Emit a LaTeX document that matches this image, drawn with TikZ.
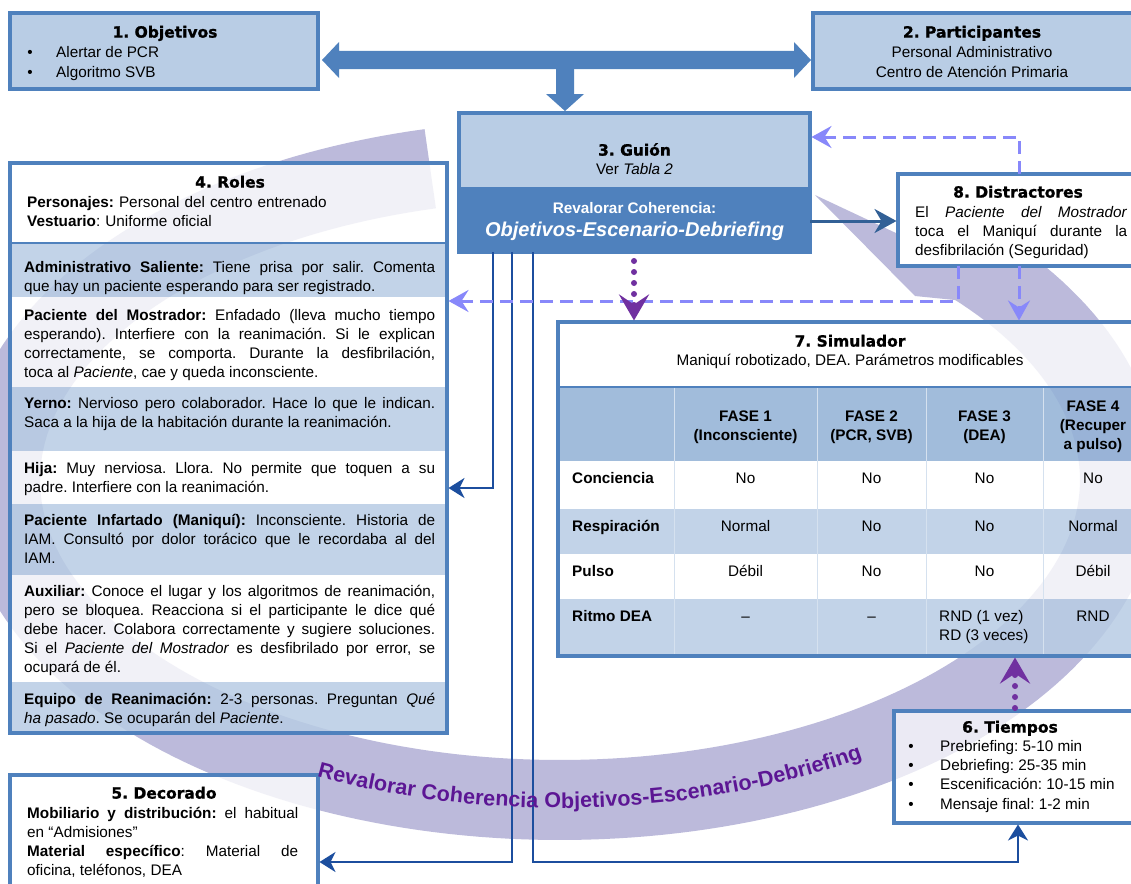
\documentclass[tikz,border=0pt]{standalone}
\usepackage{fontspec}
\setmainfont{Liberation Sans}
\newfontfamily\titlefont{DejaVu Sans Bold}[FakeBold=1.2]
\usetikzlibrary{arrows.meta,decorations.text,calc}
\definecolor{bblue}{RGB}{79,129,189}
\definecolor{lblue}{RGB}{185,205,229}
\definecolor{rowblue}{RGB}{184,204,228}
\definecolor{hdrblue}{RGB}{149,179,215}
\definecolor{bandc}{RGB}{188,186,219}
\definecolor{dkblue}{RGB}{28,78,158}
\definecolor{stblue}{RGB}{50,96,150}
\definecolor{dashc}{RGB}{136,136,250}
\definecolor{purp}{RGB}{112,48,160}
\definecolor{tpurp}{RGB}{92,22,148}
\tikzset{
 boxnode/.style={draw=bblue, line width=3.5pt, rectangle, outer sep=0pt, inner sep=0pt, anchor=north west},
 ttl/.style={font=\titlefont\fontsize{15.5}{18}\selectfont, inner sep=0pt, anchor=base},
 ln/.style={inner sep=0pt, anchor=base},
 lnw/.style={inner sep=0pt, anchor=base west},
 bln/.style={inner sep=0pt, anchor=base, font=\bfseries},
 blnw/.style={inner sep=0pt, anchor=base west, font=\bfseries},
 parbox/.style={inner sep=0pt, anchor=north west, align=justify},
 conn/.style={dkblue, line width=2.7pt, shorten >=1.5pt, -{Stealth[length=16pt,width=20pt,inset=5pt]}},
 stconn/.style={stblue, line width=3pt, shorten >=1.5pt, -{Stealth[length=22pt,width=24pt,inset=7pt]}},
 dashconn/.style={dashc, line width=3pt, dash pattern=on 13pt off 7pt, shorten >=1.5pt, -{Stealth[length=20pt,width=22pt,inset=7pt]}},
 dotconn/.style={purp, line width=6pt, line cap=round, dash pattern=on 0pt off 11pt, shorten >=1.5pt, -{Stealth[length=26pt,width=30pt,inset=10pt]}},
}
\begin{document}
\fontsize{15.3}{19}\selectfont\hyphenpenalty=10000 \exhyphenpenalty=10000 \frenchspacing
\begin{tikzpicture}[x=1pt,y=-1pt]
\useasboundingbox (0,0) rectangle (1131,883);
\clip (0,0) rectangle (1131,883);
\fill[white] (0,0) rectangle (1131,883);

% ---- background circular arrow
\draw[bandc, line width=80pt] plot[domain=-44:256.6, samples=200, variable=\t] ({560+560*cos(\t)},{480+320*sin(\t)});
\fill[bandc] (815,195) -- (898,234) -- (1010,200) -- (1000,230) -- (955,300) -- (915,296) -- cycle;

% ---- 4. Roles
\fill[white, fill opacity=.8] (10,163) rectangle (447,243);
\fill[rowblue, fill opacity=.85] (10,243) rectangle (447,297);
\fill[white, fill opacity=.8] (10,297) rectangle (447,387);
\fill[rowblue, fill opacity=.85] (10,387) rectangle (447,451);
\fill[white, fill opacity=.8] (10,451) rectangle (447,504);
\fill[rowblue, fill opacity=.85] (10,504) rectangle (447,575);
\fill[white, fill opacity=.8] (10,575) rectangle (447,682);
\fill[rowblue, fill opacity=.85] (10,682) rectangle (447,733);
\draw[bblue, line width=2pt] (10,243) -- (447,243);
\node[boxnode, minimum width=437pt, minimum height=570pt] (b4) at (10,163) {};
\node[ttl] (t4) at (230,187.6) {4. Roles};
\node[parbox, align=left, text width=400pt] (t4a) at (27,194.2) {\strut\textbf{Personajes:} Personal del centro entrenado\\\textbf{Vestuario}: Uniforme oficial};
\node[parbox, text width=411pt] (r1) at (24,259.2) {\strut\textbf{Administrativo Saliente:} Tiene prisa por salir. Comenta\linebreak que hay un paciente esperando para ser registrado.};
\node[parbox, text width=411pt] (r2) at (24,307.2) {\strut\textbf{Paciente del Mostrador:} Enfadado (lleva mucho tiempo\linebreak esperando). Interfiere con la reanimación. Si le explican\linebreak correctamente, se comporta. Durante la desfibrilación,\linebreak toca al \textit{Paciente}, cae y queda inconsciente.};
\node[parbox, text width=411pt] (r3) at (24,395.2) {\strut\textbf{Yerno:} Nervioso pero colaborador. Hace lo que le indican.\linebreak Saca a la hija de la habitación durante la reanimación.};
\node[parbox, text width=411pt] (r4) at (24,460.2) {\strut\textbf{Hija:} Muy nerviosa. Llora. No permite que toquen a su\linebreak padre. Interfiere con la reanimación.};
\node[parbox, text width=411pt] (r5) at (24,512.2) {\strut\textbf{Paciente Infartado (Maniquí):} Inconsciente. Historia de\linebreak IAM. Consultó por dolor torácico que le recordaba al del\linebreak IAM.};
\node[parbox, text width=411pt] (r6) at (24,583.2) {\strut\textbf{Auxiliar:} Conoce el lugar y los algoritmos de reanimación,\linebreak pero se bloquea. Reacciona si el participante le dice qué\linebreak debe hacer. Colabora correctamente y sugiere soluciones.\linebreak Si el \textit{Paciente del Mostrador} es desfibrilado por error, se\linebreak ocupará de él.};
\node[parbox, text width=411pt] (r7) at (24,691.2) {\strut\textbf{Equipo de Reanimación:} 2-3 personas. Preguntan \textit{Qué}\linebreak \textit{ha pasado}. Se ocuparán del \textit{Paciente}.};

% ---- 5. Decorado
\fill[white, fill opacity=.8] (10,775) rectangle (318,895);
\node[boxnode, minimum width=308pt, minimum height=120pt] (b5) at (10,775) {};
\node[ttl] (t5) at (164,798.6) {5. Decorado};
\node[parbox, text width=271pt] (t5a) at (27,805.2) {\strut\textbf{Mobiliario y distribución:} el habitual\linebreak en “Admisiones”\\\textbf{Material específico}: Material de\linebreak oficina, teléfonos, DEA};

% ---- 6. Tiempos
\fill[white, fill opacity=.7] (894,711) rectangle (1135,823);
\node[boxnode, minimum width=241pt, minimum height=112pt] (b6) at (894,711) {};
\node[ttl] (t6) at (1010,732.6) {6. Tiempos};
\node[ln] (t6b1) at (911,751.5) {•}; \node[lnw] (t6a) at (940,751.5) {Prebriefing: 5-10 min};
\node[ln] (t6b2) at (911,770.5) {•}; \node[lnw] (t6b) at (940,770.5) {Debriefing: 25-35 min};
\node[ln] (t6b3) at (911,789.5) {•}; \node[lnw] (t6c) at (940,789.5) {Escenificación: 10-15 min};
\node[ln] (t6b4) at (911,809.5) {•}; \node[lnw] (t6d) at (940,809.5) {Mensaje final: 1-2 min};

% ---- 7. Simulador
\fill[white, fill opacity=.8] (558,322) rectangle (1145,387);
\fill[hdrblue, fill opacity=.88] (558,387) rectangle (1145,461);
\fill[white, fill opacity=.8] (558,461) rectangle (1145,509);
\fill[rowblue, fill opacity=.85] (558,509) rectangle (1145,554);
\fill[white, fill opacity=.8] (558,554) rectangle (1145,599);
\fill[rowblue, fill opacity=.85] (558,599) rectangle (1145,656);
\foreach \cx in {674,817,926,1043} \draw[white!60!hdrblue, line width=1pt] (\cx,387) -- (\cx,656);
\draw[bblue, line width=2.5pt] (558,387) -- (1145,387);
\node[boxnode, minimum width=587pt, minimum height=334pt] (b7) at (558,322) {};
\node[ttl] (t7) at (850,346.6) {7. Simulador};
\node[ln] (t7a) at (850,365.5) {Maniquí robotizado, DEA. Parámetros modificables};
\node[bln] (h1a) at (745.5,421.5) {FASE 1}; \node[bln] (h1b) at (745.5,440.5) {(Inconsciente)};
\node[bln] (h2a) at (871.5,421.5) {FASE 2}; \node[bln] (h2b) at (871.5,440.5) {(PCR, SVB)};
\node[bln] (h3a) at (984.5,421.5) {FASE 3}; \node[bln] (h3b) at (984.5,440.5) {(DEA)};
\node[bln] (h4a) at (1093,411.5) {FASE 4}; \node[bln] (h4b) at (1093,430.5) {(Recuper}; \node[bln] (h4c) at (1093,449.5) {a pulso)};
\node[blnw] (l1) at (572,483.5) {Conciencia};
\node[blnw] (l2) at (572,531.5) {Respiración};
\node[blnw] (l3) at (572,576.5) {Pulso};
\node[blnw] (l4) at (572,621.5) {Ritmo DEA};
\node[ln] (c11) at (745.5,483.5) {No}; \node[ln] (c12) at (871.5,483.5) {No}; \node[ln] (c13) at (984.5,483.5) {No}; \node[ln] (c14) at (1093,483.5) {No};
\node[ln] (c21) at (745.5,531.5) {Normal}; \node[ln] (c22) at (871.5,531.5) {No}; \node[ln] (c23) at (984.5,531.5) {No}; \node[ln] (c24) at (1093,531.5) {Normal};
\node[ln] (c31) at (745.5,576.5) {Débil}; \node[ln] (c32) at (871.5,576.5) {No}; \node[ln] (c33) at (984.5,576.5) {No}; \node[ln] (c34) at (1093,576.5) {Débil};
\node[ln] (c41) at (745.5,621.5) {–}; \node[ln] (c42) at (871.5,621.5) {–};
\node[lnw] (c43a) at (939,621.5) {RND (1 vez)}; \node[lnw] (c43b) at (939,640.5) {RD (3 veces)};
\node[ln] (c44) at (1093,621.5) {RND};

% ---- 1. Objetivos
\node[boxnode, fill=lblue, minimum width=308pt, minimum height=76pt] (b1) at (10,13) {};
\node[ttl] (t1) at (165,37.6) {1. Objetivos};
\node[ln] (t1b1) at (30,57.5) {•}; \node[lnw] (t1a) at (56,57.5) {Alertar de PCR};
\node[ln] (t1b2) at (30,77.5) {•}; \node[lnw] (t1b) at (56,77.5) {Algoritmo SVB};

% ---- 2. Participantes
\node[boxnode, fill=lblue, minimum width=322pt, minimum height=76pt] (b2) at (813,13) {};
\node[ttl] (t2) at (972,37.6) {2. Participantes};
\node[ln] (t2a) at (972,57.5) {Personal Administrativo};
\node[ln] (t2b) at (972,77.5) {Centro de Atención Primaria};

% ---- 3. Guion
\node[boxnode, fill=lblue, minimum width=351pt, minimum height=139pt] (b3) at (459,113) {};
\fill[bblue] (459,187) rectangle (810,252);
\node[ttl] (t3) at (634.5,155.6) {3. Guión};
\node[ln] (t3a) at (634.5,174.5) {Ver \textit{Tabla 2}};
\node[bln, text=white] (t3b) at (634.5,213.5) {Revalorar Coherencia:};
\node[ln, text=white, font=\fontsize{20}{22}\selectfont\bfseries\itshape] (t3c) at (634.5,236) {Objetivos-Escenario-Debriefing};

% ---- 8. Distractores
\node[boxnode, fill=white, minimum width=242pt, minimum height=92pt] (b8) at (898,174) {};
\node[ttl] (t8) at (1018,197.6) {8. Distractores};
\node[parbox, text width=212pt] (t8a) at (915,204.2) {\strut El \textit{Paciente del Mostrador}\linebreak toca el Maniquí durante la\linebreak desfibrilación (Seguridad)};

% ---- big blue arrows
\coordinate (dl) at ($(b1.east |- 0,60)+(4,0)$);
\coordinate (dr) at ($(b2.west |- 0,60)+(-2,0)$);
\coordinate (dt) at ($(b3.north -| 565,0)+(0,-2)$);
\fill[bblue] (dl) -- ++(17,-18) -- ++(0,9) -- ($(dr)+(-17,-9)$) -- ++(0,-9) -- (dr) -- ++(-17,18) -- ++(0,-9) -- ($(dl)+(17,9)$) -- ++(0,9) -- cycle;
\fill[bblue] ($(dt)+(-9,-42)$) -- ($(dt)+(-9,-17)$) -- ($(dt)+(-19,-17)$) -- (dt) -- ($(dt)+(19,-17)$) -- ($(dt)+(9,-17)$) -- ($(dt)+(9,-42)$) -- cycle;

% ---- connectors
\draw[stconn] (b3.east |- 0,221) -- (b8.west |- 0,221);
\draw[conn] (b3.south -| 493,0) |- (b4.east |- 0,488);
\draw[conn] (b3.south -| 512,0) |- (b5.east |- 0,862);
\draw[conn] (b3.south -| 533,0) |- ($(b6.south -| 1018,0)+(0,39)$) -- (b6.south -| 1018,0);
\draw[dashconn] (b8.north -| 1019,0) |- (b3.east |- 0,137);
\draw[dashconn] (b8.south -| 958,0) |- (b4.east |- 0,301);
\draw[dashconn] (b8.south -| 1019,0) -- (b7.north -| 1019,0);
\draw[dotconn] ($(b3.south -| 634,0)+(0,9)$) -- (b7.north -| 634,0);
\draw[dotconn] ($(b6.north -| 1015,0)+(0,-3)$) -- (b7.south -| 1015,0);

% ---- curved label
\path[decorate, decoration={text along path, text align=center, raise=-8pt, text color=tpurp,
  text={|\fontsize{21.5}{22}\selectfont\bfseries|Revalorar Coherencia Objetivos-Escenario-Debriefing}}]
  plot[domain=0:96, samples=150, variable=\s] ({560+560*cos(134-\s)},{480+320*sin(134-\s)});
\end{tikzpicture}
\end{document}
